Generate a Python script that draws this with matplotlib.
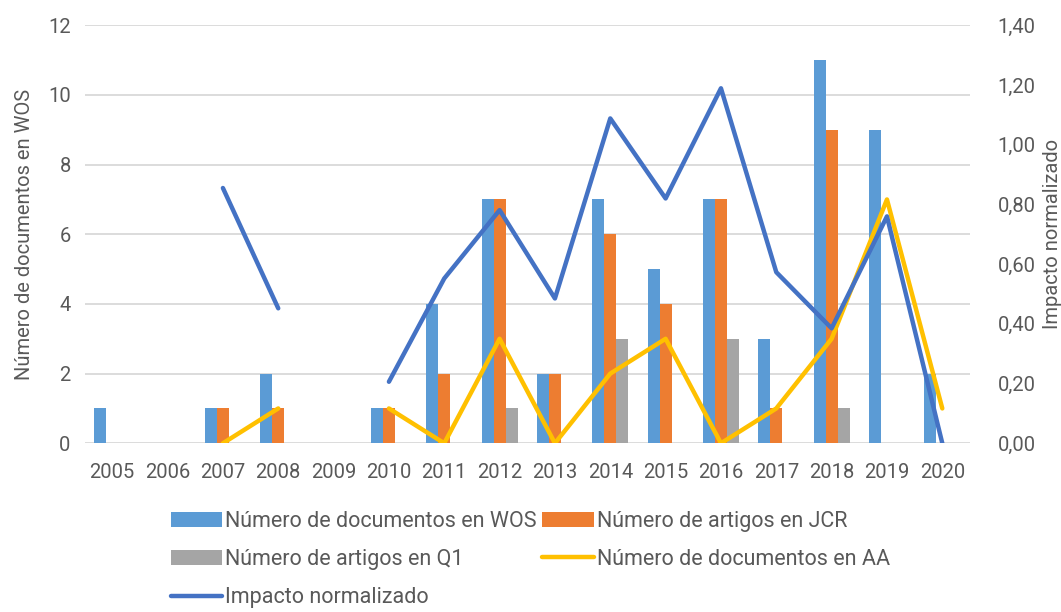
import matplotlib.pyplot as plt
import numpy as np
from matplotlib.ticker import FuncFormatter

years = ["2005", "2006", "2007", "2008", "2009", "2010", "2011", "2012",
         "2013", "2014", "2015", "2016", "2017", "2018", "2019", "2020"]
wos = [1, 0, 1, 2, 0, 1, 4, 7, 2, 7, 5, 7, 3, 11, 9, 2]
jcr = [0, 0, 1, 1, 0, 1, 2, 7, 2, 6, 4, 7, 1, 9, 0, 0]
q1 = [0, 0, 0, 0, 0, 0, 0, 1, 0, 3, 0, 3, 0, 1, 0, 0]
aa = [np.nan, np.nan, 0, 1, np.nan, 1, 0, 3, 0, 2, 3, 0, 1, 3, 7, 1]
impacto = [np.nan, np.nan, 0.855, 0.452, np.nan, 0.206, 0.552, 0.781,
           0.485, 1.088, 0.82, 1.189, 0.573, 0.385, 0.76, 0.0]

text_color = "#595959"
plt.rcParams["font.family"] = ["Roboto", "DejaVu Sans"]
plt.rcParams["font.size"] = 14.5

fig = plt.figure(figsize=(10.61, 6.12), dpi=100)
ax = fig.add_axes([0.0797, 0.2757, 0.8345, 0.683])
ax2 = ax.twinx()

x = np.arange(len(years))
w = 0.217
b1 = ax.bar(x - w, wos, w, color="#5B9BD5", label="Número de documentos en WOS")
b2 = ax.bar(x, jcr, w, color="#ED7D31", label="Número de artigos en JCR")
b3 = ax.bar(x + w, q1, w, color="#A5A5A5", label="Número de artigos en Q1")
l1, = ax.plot(x, aa, color="#FFC000", lw=3.2, solid_capstyle="round",
              label="Número de documentos en AA", zorder=3)
l2, = ax2.plot(x, impacto, color="#4472C4", lw=3.2, solid_capstyle="round",
               label="Impacto normalizado", zorder=3)

ax.set_xlim(-0.5, len(years) - 0.5)
ax.set_ylim(0, 12)
ax.set_yticks(range(0, 13, 2))
ax2.set_ylim(0, 1.4)
ax2.set_yticks(np.arange(0, 1.41, 0.2))
ax2.yaxis.set_major_formatter(FuncFormatter(lambda v, p: f"{v:.2f}".replace(".", ",")))
ax.set_xticks(x)
ax.set_xticklabels(years)

ax.grid(axis="y", color="#D9D9D9", lw=1.3)
ax.set_axisbelow(True)
for a in (ax, ax2):
    for s in a.spines.values():
        s.set_visible(False)
    a.tick_params(length=0, colors=text_color)
ax.tick_params(axis="y", pad=10)
ax.tick_params(axis="x", pad=14)
ax2.tick_params(axis="y", pad=20)

ax.set_ylabel("Número de documentos en WOS", color=text_color, labelpad=10)
ax2.set_ylabel("Impacto normalizado", color=text_color, rotation=90, labelpad=5)

handles = [b1, b3, l2, b2, l1]
fig.legend(handles, [h.get_label() for h in handles], ncol=2, loc="upper center",
           bbox_to_anchor=(0.5, 0.197), frameon=False, handlelength=2.4,
           handletextpad=0.15, columnspacing=0.25, labelspacing=0.8,
           fontsize=15.5, labelcolor=text_color)

fig.savefig("out.png", dpi=100)
